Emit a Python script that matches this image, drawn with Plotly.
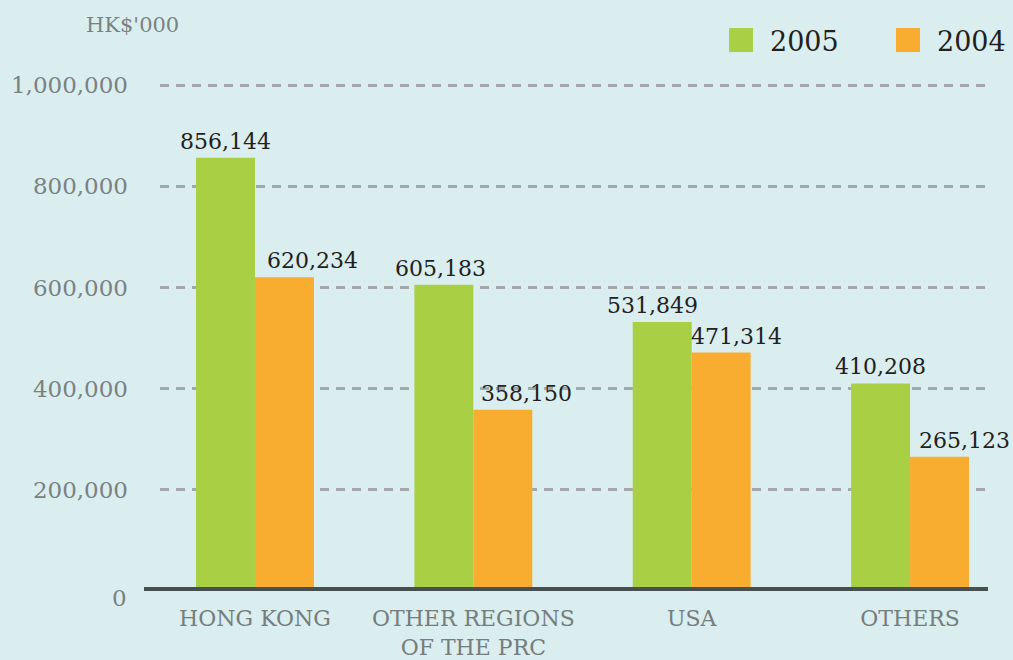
import plotly.graph_objects as go

categories = ["HONG KONG", "OTHER REGIONS<br>OF THE PRC", "USA", "OTHERS"]
values_2005 = [856144, 605183, 531849, 410208]
values_2004 = [620234, 358150, 471314, 265123]
tick_vals = [200000, 400000, 600000, 800000, 1000000]
tick_text = ["200,000", "400,000", "600,000", "800,000", "1,000,000"]
zero_label = "0"

GREEN = "#a9cf45"
ORANGE = "#f8ad30"
BG = "#daeef0"
FONT = "DejaVu Serif"
W, H = 1013, 660
YMAX = 1010000
ML, MR, MB = 160, 25, 69
# 1,000,000 gridline at y=85 px
PH_FULL = (H - MB - 85) * YMAX / 1000000
MT = H - MB - PH_FULL
PW, PH = W - ML - MR, H - MT - MB

def px(x):
    return (x - ML) / PW

def py(y):
    return (H - MB - y) / PH

fig = go.Figure()
fig.add_trace(go.Bar(x=categories, y=values_2005, name="2005", marker_color=GREEN,
                     marker_line_width=0))
fig.add_trace(go.Bar(x=categories, y=values_2004, name="2004", marker_color=ORANGE,
                     marker_line_width=0))

# value labels
shift_2005 = [0, -3, -10, 0]
shift_2004 = [28, 24, 15, 25]
for i, c in enumerate(categories):
    fig.add_annotation(x=c, y=values_2005[i], text=f"{values_2005[i]:,}", showarrow=False,
                       xref="x", yref="y", yanchor="bottom", xshift=-29.5 + shift_2005[i], yshift=2,
                       font=dict(family=FONT, size=22, color="#231f20"))
    fig.add_annotation(x=c, y=values_2004[i], text=f"{values_2004[i]:,}", showarrow=False,
                       xref="x", yref="y", yanchor="bottom", xshift=29.5 + shift_2004[i], yshift=2,
                       font=dict(family=FONT, size=22, color="#231f20"))

# baseline
fig.add_shape(type="line", xref="paper", yref="paper", x0=px(144), x1=1, y0=py(589), y1=py(589),
              line=dict(color="#465050", width=4), layer="above")

# zero label (sits a little below the baseline)
fig.add_annotation(x=px(129), y=py(598), xref="paper", yref="paper", text=zero_label,
                   showarrow=False, xanchor="right", yanchor="middle",
                   font=dict(family=FONT, size=23, color="#7b8181"))

# unit label
fig.add_annotation(x=px(84), y=py(25), xref="paper", yref="paper", text="HK$'000",
                   showarrow=False, xanchor="left", yanchor="middle",
                   font=dict(family=FONT, size=21, color="#7b8181"))

# manual legend
for (x0, label, col) in [(729, "2005", GREEN), (896, "2004", ORANGE)]:
    fig.add_shape(type="rect", xref="paper", yref="paper", x0=px(x0), x1=px(x0 + 24),
                  y0=py(52), y1=py(28), fillcolor=col, line_width=0)
    fig.add_annotation(x=px(x0 + 39), y=py(41), xref="paper", yref="paper", text=label,
                       showarrow=False, xanchor="left", yanchor="middle",
                       font=dict(family=FONT, size=27, color="#231f20"))

fig.update_layout(
    width=W, height=H,
    margin=dict(l=ML, r=MR, t=MT, b=MB, autoexpand=False),
    paper_bgcolor=BG, plot_bgcolor=BG,
    barmode="group", bargap=0.46, bargroupgap=0,
    showlegend=False,
    font=dict(family=FONT),
)
fig.update_xaxes(range=[-0.435, 3.357], showgrid=False, showline=False, zeroline=False,
                 tickfont=dict(family=FONT, size=22, color="#767d7d"), ticks="",
                 ticklabelstandoff=12, automargin=False)
fig.update_yaxes(range=[0, YMAX], tickvals=tick_vals, ticktext=tick_text,
                 showgrid=True, gridcolor="#a3a9ab", gridwidth=2.5, griddash="9px,7px",
                 zeroline=False, showline=False, ticks="",
                 tickfont=dict(family=FONT, size=23, color="#7b8181"),
                 ticklabelstandoff=31, automargin=False)

fig.write_html("out.html", config={"displayModeBar": False},
               post_script="document.body.style.margin='0';")
